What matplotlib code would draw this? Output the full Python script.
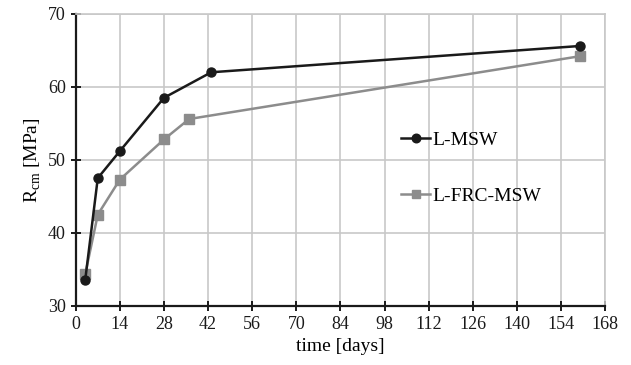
import matplotlib
matplotlib.use("Agg")
import matplotlib.pyplot as plt

plt.rcParams['font.family'] = ['Liberation Serif', 'DejaVu Serif']
plt.rcParams['mathtext.fontset'] = 'custom'
plt.rcParams['mathtext.rm'] = 'Liberation Serif'

# data (days, MPa)
days_msw = [3, 7, 14, 28, 43, 160]
rcm_msw = [33.5, 47.5, 51.2, 58.5, 62.0, 65.6]
days_frc = [3, 7, 14, 28, 36, 160]
rcm_frc = [34.3, 42.5, 47.3, 52.8, 55.6, 64.2]
xticks = list(range(0, 169, 14))
yticks = [30, 40, 50, 60, 70]

fig = plt.figure(figsize=(6.31, 3.65), dpi=100)
ax = fig.add_axes([0.120, 0.162, 0.839, 0.800])

ax.plot(days_msw, rcm_msw, color='#1a1a1a', lw=1.8, marker='o', ms=6.5, label='L-MSW', zorder=4)
ax.plot(days_frc, rcm_frc, color='#8c8c8c', lw=1.8, marker='s', ms=6.5, label='L-FRC-MSW', zorder=3)

ax.set_xlim(0, 168)
ax.set_ylim(30, 70)
ax.set_xticks(xticks)
ax.set_yticks(yticks)
ax.grid(True, color='#c8c8c8', lw=1.2)
ax.set_axisbelow(True)

for s in ['top', 'right']:
    ax.spines[s].set_color('#c8c8c8')
    ax.spines[s].set_linewidth(1.2)
for s in ['left', 'bottom']:
    ax.spines[s].set_color('#1a1a1a')
    ax.spines[s].set_linewidth(1.6)
ax.tick_params(direction='inout', length=7, width=1.4, labelsize=13, colors='#1a1a1a')

ax.set_xlabel('time [days]', fontsize=14)
ax.set_ylabel(r'R$_{\mathrm{cm}}$ [MPa]', fontsize=14)

ax.legend(loc='upper left', bbox_to_anchor=(0.60, 0.625), frameon=False, fontsize=14,
          handlelength=1.5, handletextpad=0.1, labelspacing=2.0, markerscale=0.95,
          borderaxespad=0)

fig.savefig('out.png', dpi=100)
